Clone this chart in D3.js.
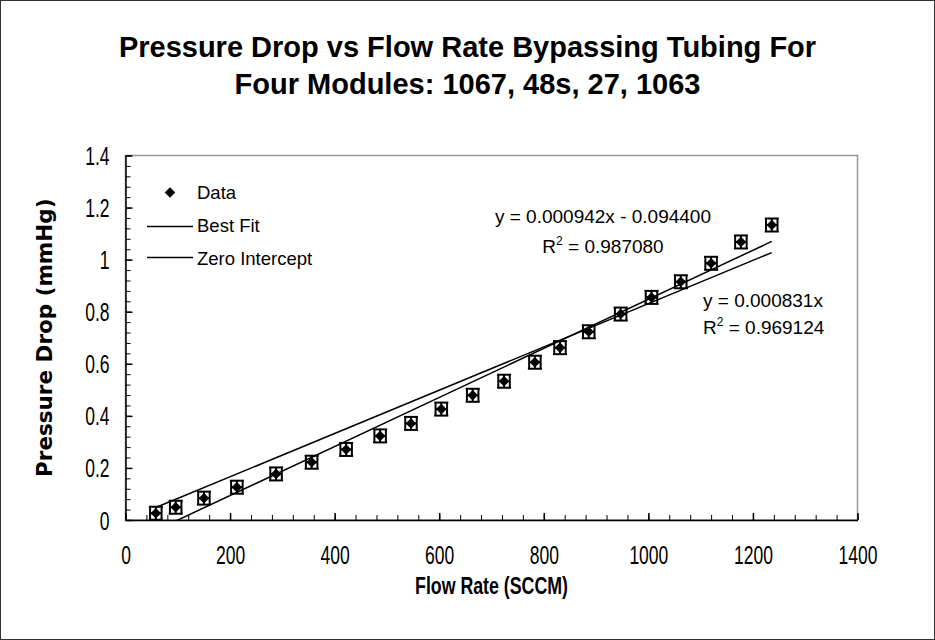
<!DOCTYPE html>
<html>
<head>
<meta charset="utf-8">
<script src="https://cdn.jsdelivr.net/npm/d3@7"></script>
<style>
  body { margin: 0; background: #fff; }
  svg { display: block; }
  text { font-family: "Liberation Sans", Arial, sans-serif; fill: #000; }
</style>
</head>
<body>
<div id="chart"></div>
<script>
// flow rate (SCCM) and pressure drop (mmHg)
const flowRate = [58, 96, 150, 213, 288, 356, 422, 487, 546, 604, 664, 724, 783, 831, 886, 947, 1006, 1062, 1120, 1177, 1236];
const pressureDrop = [0.026, 0.049, 0.084, 0.126, 0.177, 0.222, 0.271, 0.323, 0.371, 0.426, 0.479, 0.533, 0.606, 0.662, 0.723, 0.791, 0.855, 0.915, 0.986, 1.068, 1.133];
const flowErr = 11;
const pressureErr = 0.025;

// fitted lines
const bestSlope = 0.000942, bestIntercept = -0.094400;
const zeroSlope = 0.000831;

const xTicks = [0, 200, 400, 600, 800, 1000, 1200, 1400];
const yTicks = [0, 0.2, 0.4, 0.6, 0.8, 1, 1.2, 1.4];
const xMinor = d3.range(0, 1401, 40);
const yMinor = d3.range(0, 1.4001, 0.04);

const titleLines = ["Pressure Drop vs Flow Rate Bypassing Tubing For", "Four Modules: 1067, 48s, 27, 1063"];

const width = 935, height = 640;
const plot = { left: 125.5, right: 857.5, top: 155.5, bottom: 520 };

const svg = d3.select("#chart").append("svg")
  .attr("width", width)
  .attr("height", height);

svg.append("rect")
  .attr("x", 0.5).attr("y", 0.5)
  .attr("width", width - 1).attr("height", height - 1)
  .attr("fill", "#fff").attr("stroke", "#333").attr("stroke-width", 1);

const x = d3.scaleLinear().domain([0, 1400]).range([plot.left, plot.right]);
const y = d3.scaleLinear().domain([0, 1.4]).range([plot.bottom, plot.top]);

// narrow face used for ticks and x title
function narrow(sel, k) {
  sel.each(function () {
    const w = this.getComputedTextLength();
    d3.select(this).attr("textLength", w * k).attr("lengthAdjust", "spacingAndGlyphs");
  });
}

// title
svg.selectAll(".title")
  .data(titleLines)
  .enter().append("text")
  .attr("class", "title")
  .attr("x", 467.5)
  .attr("y", (d, i) => 57 + i * 37)
  .attr("text-anchor", "middle")
  .style("font-size", "29px")
  .style("font-weight", "bold")
  .text(d => d);

// plot frame (top / right in grey)
svg.append("rect")
  .attr("x", x(0)).attr("y", y(1.4))
  .attr("width", x(1400) - x(0)).attr("height", y(0) - y(1.4))
  .attr("fill", "none").attr("stroke", "#999").attr("stroke-width", 1.5);

// minor ticks
svg.append("g")
  .attr("transform", `translate(0,${plot.bottom})`)
  .call(d3.axisBottom(x).tickValues(xMinor).tickSize(-5).tickSizeOuter(0).tickFormat(""))
  .call(g => g.select(".domain").remove())
  .selectAll("line").attr("stroke", "#000");

svg.append("g")
  .attr("transform", `translate(${plot.left},0)`)
  .call(d3.axisLeft(y).tickValues(yMinor).tickSize(-5).tickSizeOuter(0).tickFormat(""))
  .call(g => g.select(".domain").remove())
  .selectAll("line").attr("stroke", "#000");

// major ticks + labels
const xAxis = svg.append("g")
  .attr("transform", `translate(0,${plot.bottom})`)
  .call(d3.axisBottom(x).tickValues(xTicks).tickSize(-7).tickSizeOuter(0).tickFormat(d3.format("")));

const yAxis = svg.append("g")
  .attr("transform", `translate(${plot.left},0)`)
  .call(d3.axisLeft(y).tickValues(yTicks).tickSize(-7).tickSizeOuter(0).tickFormat(d3.format("")));

[xAxis, yAxis].forEach(g => {
  g.select(".domain").attr("stroke", "#000").attr("stroke-width", 1.5);
  g.selectAll(".tick line").attr("stroke", "#000").attr("stroke-width", 1.5);
  g.selectAll(".tick text")
    .attr("fill", "#000")
    .style("font-family", '"Liberation Sans", Arial, sans-serif')
    .style("font-size", "25px");
});
xAxis.selectAll(".tick text").attr("y", 44).attr("dy", null);
yAxis.selectAll(".tick text").attr("x", -16).attr("dy", "0.36em");
narrow(svg.selectAll(".tick text"), 0.7);

// fit lines
svg.append("clipPath").attr("id", "clip")
  .append("rect")
  .attr("x", x(0)).attr("y", y(1.4))
  .attr("width", x(1400) - x(0)).attr("height", y(0) - y(1.4));

const xMin = d3.min(flowRate), xMax = d3.max(flowRate);
const fitLines = [
  { slope: bestSlope, intercept: bestIntercept },
  { slope: zeroSlope, intercept: 0 }
];
const line = d3.line().x(d => x(d[0])).y(d => y(d[1]));

svg.append("g").attr("clip-path", "url(#clip)")
  .selectAll("path")
  .data(fitLines)
  .enter().append("path")
  .attr("d", f => line([[xMin, f.slope * xMin + f.intercept], [xMax, f.slope * xMax + f.intercept]]))
  .attr("fill", "none")
  .attr("stroke", "#000")
  .attr("stroke-width", 1.5);

// data points with error bars
const points = flowRate.map((f, i) => ({ flow: f, p: pressureDrop[i] }));
const cap = 7;
const eb = svg.append("g").attr("stroke", "#000").attr("stroke-width", 2);

points.forEach(d => {
  const cx = x(d.flow), cy = y(d.p);
  const x0 = x(d.flow - flowErr), x1 = x(d.flow + flowErr);
  const y0 = y(d.p - pressureErr), y1 = y(d.p + pressureErr);
  eb.append("line").attr("x1", x0).attr("x2", x1).attr("y1", cy).attr("y2", cy);
  eb.append("line").attr("x1", cx).attr("x2", cx).attr("y1", y0).attr("y2", y1);
  eb.append("line").attr("x1", x0).attr("x2", x0).attr("y1", cy - cap).attr("y2", cy + cap);
  eb.append("line").attr("x1", x1).attr("x2", x1).attr("y1", cy - cap).attr("y2", cy + cap);
  eb.append("line").attr("x1", cx - cap).attr("x2", cx + cap).attr("y1", y0).attr("y2", y0);
  eb.append("line").attr("x1", cx - cap).attr("x2", cx + cap).attr("y1", y1).attr("y2", y1);
});

const diamond = d3.symbol().type(d3.symbolSquare).size(56);

svg.append("g").selectAll("path")
  .data(points)
  .enter().append("path")
  .attr("d", diamond)
  .attr("transform", d => `translate(${x(d.flow)},${y(d.p)}) rotate(45)`)
  .attr("fill", "#000");

// legend
const legend = svg.append("g").style("font-size", "18.5px");
legend.append("path")
  .attr("d", diamond)
  .attr("transform", "translate(170,192.5) rotate(45)")
  .attr("fill", "#000");
legend.append("text").attr("x", 197).attr("y", 198.5).text("Data");
[226.5, 257.5].forEach(ly => {
  legend.append("line")
    .attr("x1", 147).attr("x2", 193).attr("y1", ly).attr("y2", ly)
    .attr("stroke", "#000").attr("stroke-width", 1.5);
});
legend.append("text").attr("x", 197).attr("y", 231.5).text("Best Fit");
legend.append("text").attr("x", 197).attr("y", 264.5).text("Zero Intercept");

// equations
const eq = svg.append("g").style("font-size", "19px");
eq.append("text").attr("x", 603).attr("y", 223).attr("text-anchor", "middle")
  .text(`y = ${bestSlope.toFixed(6)}x - ${Math.abs(bestIntercept).toFixed(6)}`);
function rSquared(g, tx, ty, anchor, value) {
  const t = g.append("text").attr("x", tx).attr("y", ty).attr("text-anchor", anchor);
  t.append("tspan").text("R");
  t.append("tspan").attr("dy", -8).style("font-size", "12px").text("2");
  t.append("tspan").attr("dy", 8).text(` = ${value}`);
}
rSquared(eq, 603, 253, "middle", "0.987080");
eq.append("text").attr("x", 703).attr("y", 307).text(`y = ${zeroSlope.toFixed(6)}x`);
rSquared(eq, 703, 334, "start", "0.969124");

// axis titles
svg.append("text")
  .attr("x", (plot.left + plot.right) / 2)
  .attr("y", 594)
  .attr("text-anchor", "middle")
  .style("font-size", "24px")
  .style("font-weight", "bold")
  .text("Flow Rate (SCCM)")
  .call(narrow, 0.74);

svg.append("text")
  .attr("transform", `translate(52,${(plot.top + plot.bottom) / 2}) rotate(-90)`)
  .attr("text-anchor", "middle")
  .style("font-family", '"DejaVu Sans", Verdana, sans-serif')
  .style("font-size", "21.5px")
  .style("font-weight", "bold")
  .text("Pressure Drop (mmHg)");
</script>
</body>
</html>
